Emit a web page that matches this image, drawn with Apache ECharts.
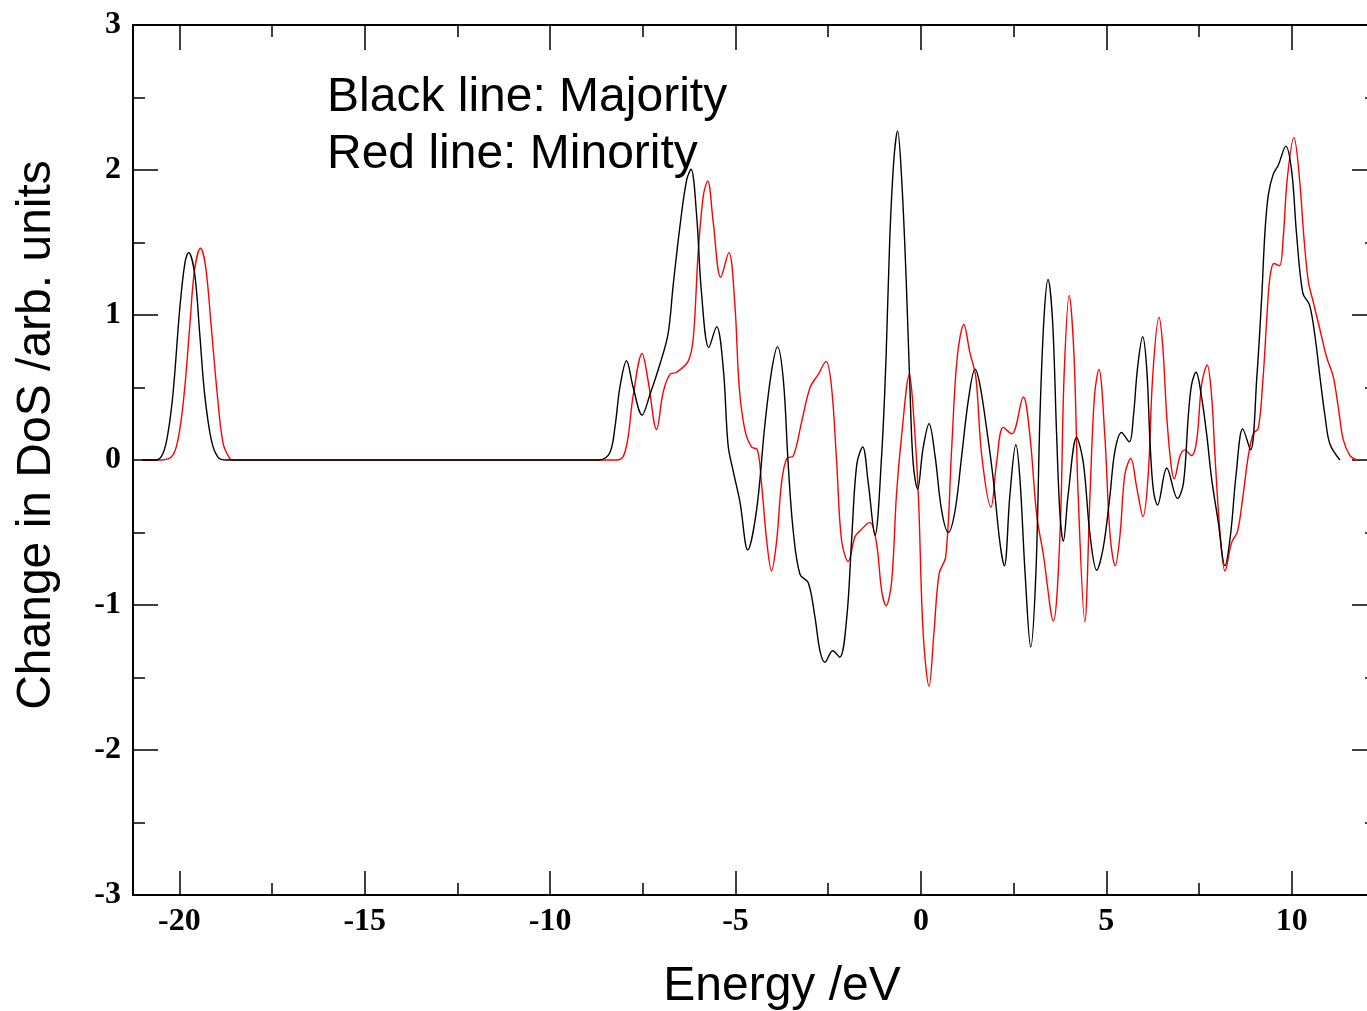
<!DOCTYPE html>
<html>
<head>
<meta charset="utf-8">
<script src="https://cdn.jsdelivr.net/npm/echarts@6/dist/echarts.min.js"></script>
<style>
  html, body { margin: 0; padding: 0; background: #fff; }
  #chart { width: 1367px; height: 1011px; }
</style>
</head>
<body>
<div id="chart"></div>
<script>
// Majority spin (black line): energy (eV) and change in DoS
const majorityEnergy = [-21, -20.62, -20.44, -20.31, -20.17, -19.99, -19.85, -19.75, -19.59, -19.45, -19.32, -19.14, -18.96, -18.73, -18.4, -9.0,
  -8.66, -8.39, -8.25, -8.12, -7.94, -7.76, -7.52, -7.31, -7.04, -6.82, -6.68, -6.50, -6.32, -6.20, -6.05, -5.92, -5.72, -5.51, -5.33, -5.20,
  -5.06, -4.88, -4.67, -4.43, -4.21, -4.03, -3.87, -3.71, -3.58, -3.44, -3.26, -3.04, -2.86, -2.72, -2.59, -2.38, -2.19, -2.00, -1.87, -1.73,
  -1.57, -1.42, -1.24, -1.06, -0.94, -0.84, -0.73, -0.63, -0.52, -0.40, -0.30, -0.21, -0.09, 0.06, 0.22, 0.38, 0.56, 0.74, 0.92, 1.10, 1.28,
  1.46, 1.59, 1.77, 1.95, 2.13, 2.25, 2.40, 2.56, 2.67, 2.81, 2.96, 3.10, 3.21, 3.32, 3.43, 3.55, 3.66, 3.75, 3.84, 3.97, 4.20, 4.38, 4.56,
  4.74, 4.92, 5.10, 5.23, 5.41, 5.62, 5.73, 5.84, 5.98, 6.09, 6.18, 6.27, 6.38, 6.63, 6.92, 7.08, 7.21, 7.30, 7.42, 7.55, 7.71, 7.84, 8.02,
  8.20, 8.35, 8.50, 8.68, 8.89, 9.06, 9.19, 9.28, 9.37, 9.50, 9.64, 9.84, 10.00, 10.13, 10.30, 10.48, 10.63, 10.76, 10.90, 11.03, 11.30];
const majorityDos = [0, 0, 0.046, 0.18, 0.46, 1.04, 1.36, 1.43, 1.29, 0.87, 0.46, 0.14, 0.02, 0, 0, 0,
  0, 0.05, 0.23, 0.50, 0.685, 0.50, 0.31, 0.45, 0.66, 0.87, 1.21, 1.61, 1.93, 2.005, 1.69, 1.16, 0.775, 0.92, 0.63, 0.10,
  -0.08, -0.29, -0.62, -0.34, 0.24, 0.61, 0.78, 0.55, -0.03, -0.50, -0.79, -0.845, -1.08, -1.32, -1.395, -1.315, -1.36, -1.085, -0.555, -0.03,
  0.09, -0.16, -0.52, 0.03, 0.71, 1.53, 2.07, 2.27, 1.94, 1.26, 0.52, -0.02, -0.20, 0.085, 0.25, 0.03, -0.35, -0.50, -0.35, 0.03, 0.415,
  0.627, 0.52, 0.22, -0.13, -0.57, -0.73, -0.24, 0.105, -0.13, -0.785, -1.29, -0.785, 0.30, 0.985, 1.245, 0.96, 0.17, -0.375, -0.56, -0.24, 0.155, -0.02, -0.515,
  -0.76, -0.60, -0.24, 0.06, 0.19, 0.125, 0.30, 0.63, 0.85, 0.63, 0.115, -0.21, -0.31, -0.055, -0.265, -0.16, 0.30, 0.52, 0.605, 0.465, 0.17, -0.13, -0.43,
  -0.73, -0.515, -0.10, 0.215, 0.07, 0.575, 1.12, 1.58, 1.83, 1.97, 2.035, 2.165, 1.99, 1.56, 1.15, 1.07, 0.85, 0.575, 0.30, 0.11, 0.00];

// Minority spin (red line)
const minorityEnergy = [-21, -20.48, -20.17, -19.99, -19.85, -19.72, -19.59, -19.43, -19.29, -19.14, -18.98, -18.82, -18.64, -18.55, -18.3, -8.6,
  -8.21, -8.03, -7.90, -7.76, -7.52, -7.36, -7.13, -6.95, -6.77, -6.59, -6.28, -6.14, -6.01, -5.87, -5.75, -5.60, -5.40, -5.18, -5.02, -4.90,
  -4.75, -4.57, -4.41, -4.30, -4.16, -4.03, -3.89, -3.76, -3.62, -3.44, -3.22, -2.99, -2.77, -2.56, -2.41, -2.27, -2.14, -1.96, -1.78, -1.65,
  -1.38, -1.20, -1.06, -0.94, -0.79, -0.66, -0.52, -0.31, -0.21, -0.07, 0.06, 0.22, 0.35, 0.49, 0.67, 0.83, 0.98, 1.16, 1.32, 1.48, 1.64,
  1.89, 2.04, 2.22, 2.45, 2.76, 2.94, 3.12, 3.30, 3.57, 3.75, 3.86, 4.00, 4.13, 4.24, 4.42, 4.56, 4.68, 4.80, 4.96, 5.10, 5.24, 5.37, 5.50,
  5.66, 5.82, 5.99, 6.13, 6.25, 6.42, 6.52, 6.63, 6.74, 6.83, 6.99, 7.12, 7.30, 7.44, 7.57, 7.72, 7.84, 7.93, 8.07, 8.20, 8.38, 8.54, 8.69,
  8.83, 8.96, 9.10, 9.23, 9.33, 9.41, 9.52, 9.67, 9.77, 9.88, 10.06, 10.21, 10.33, 10.45, 10.58, 10.76, 10.94, 11.12, 11.26, 11.39, 11.57, 11.75];
const minorityDos = [0, 0, 0.035, 0.21, 0.51, 0.92, 1.31, 1.46, 1.33, 0.92, 0.46, 0.115, 0.01, 0, 0, 0,
  0, 0.025, 0.155, 0.445, 0.735, 0.55, 0.21, 0.47, 0.59, 0.605, 0.68, 0.84, 1.42, 1.82, 1.925, 1.635, 1.26, 1.43, 1.08, 0.50,
  0.21, 0.09, 0.07, -0.16, -0.555, -0.765, -0.555, -0.16, 0.01, 0.03, 0.26, 0.50, 0.59, 0.68, 0.50, -0.03, -0.555, -0.70, -0.53, -0.49,
  -0.43, -0.57, -0.90, -1.005, -0.84, -0.24, 0.17, 0.59, 0.355, -0.24, -1.195, -1.56, -1.195, -0.785, -0.665, 0.085, 0.71, 0.935, 0.74, 0.575, 0.03,
  -0.325, -0.02, 0.225, 0.18, 0.435, 0.165, -0.375, -0.65, -1.11, -0.515, 0.575, 1.135, 0.71, -0.24, -1.115, -0.24, 0.44, 0.625, 0.165, -0.515, -0.73, -0.515, -0.10,
  0.01, -0.19, -0.39, -0.10, 0.575, 0.985, 0.79, 0.30, -0.02, -0.13, 0.03, 0.07, 0.03, 0.14, 0.52, 0.655, 0.44, 0.03, -0.515, -0.765, -0.57, -0.49, -0.24,
  0.03, 0.18, 0.22, 0.575, 0.985, 1.255, 1.355, 1.34, 1.53, 1.94, 2.225, 1.94, 1.53, 1.23, 1.09, 0.90, 0.71, 0.575, 0.355, 0.14, 0.03, 0];

const xMajorTicks = [-20, -15, -10, -5, 0, 5, 10];
const xMinorTicks = [-17.5, -12.5, -7.5, -2.5, 2.5, 7.5];
const annotationLines = ['Black line: Majority', 'Red line: Minority'];

const toPairs = (xs, ys) => xs.map((x, i) => [x, ys[i]]);

const X_MIN = -21.25, X_MAX = 12.3;
const labelFont = { fontFamily: 'Liberation Serif', fontSize: 32, fontWeight: 'bold', color: '#000' };
const lineStyleAxis = { color: '#000', width: 2 };

function xAxisDef(position, ticks, len, showLine, showLabel) {
  return {
    type: 'value', position: position, min: X_MIN, max: X_MAX,
    axisLine: { show: showLine, onZero: false, lineStyle: lineStyleAxis },
    axisTick: { show: true, inside: true, length: len, customValues: ticks, lineStyle: { color: '#000', width: 1.5 } },
    axisLabel: showLabel ? Object.assign({ show: true, customValues: xMajorTicks, margin: 11 }, labelFont) : { show: false },
    splitLine: { show: false }
  };
}

const chart = echarts.init(document.getElementById('chart'), null, { renderer: 'canvas' });
chart.setOption({
  animation: false,
  backgroundColor: '#fff',
  grid: { left: 133, top: 25, width: 1244, height: 870, containLabel: false, outerBoundsMode: 'none' },
  xAxis: [
    Object.assign(xAxisDef('bottom', xMajorTicks, 24, true, true), {
      name: 'Energy /eV', nameLocation: 'middle', nameGap: 68,
      nameTextStyle: { fontFamily: 'Liberation Sans', fontSize: 48, color: '#000', padding: [0, 0, 0, 54] }
    }),
    xAxisDef('bottom', xMinorTicks, 12, false, false),
    xAxisDef('top', xMajorTicks, 25, true, false),
    xAxisDef('top', xMinorTicks, 12, false, false)
  ],
  yAxis: [
    {
      type: 'value', position: 'left', min: -3, max: 3, interval: 1,
      name: 'Change in DoS /arb. units', nameLocation: 'middle', nameGap: 72,
      nameTextStyle: { fontFamily: 'Liberation Sans', fontSize: 48, color: '#000', padding: [0, 0, 0, 50] },
      axisLine: { show: true, onZero: false, lineStyle: lineStyleAxis },
      axisTick: { show: true, inside: true, length: 25, lineStyle: { color: '#000', width: 1.5 } },
      minorTick: { show: true, splitNumber: 2, length: 12, lineStyle: { color: '#000', width: 1.5 } },
      axisLabel: Object.assign({ margin: 12, padding: [10, 0, 0, 0] }, labelFont),
      splitLine: { show: false }, minorSplitLine: { show: false }
    },
    {
      type: 'value', position: 'right', min: -3, max: 3, interval: 1,
      axisLine: { show: true, onZero: false, lineStyle: lineStyleAxis },
      axisTick: { show: true, inside: true, length: 25, lineStyle: { color: '#000', width: 1.5 } },
      minorTick: { show: true, splitNumber: 2, length: 12, lineStyle: { color: '#000', width: 1.5 } },
      axisLabel: { show: false },
      splitLine: { show: false }, minorSplitLine: { show: false }
    }
  ],
  series: [
    {
      name: 'Majority', type: 'line', xAxisIndex: 0, yAxisIndex: 0,
      data: toPairs(majorityEnergy, majorityDos),
      showSymbol: false, smooth: 0.35,
      lineStyle: { color: '#000', width: 1.4 }, z: 3
    },
    {
      name: 'Minority', type: 'line', xAxisIndex: 0, yAxisIndex: 0,
      data: toPairs(minorityEnergy, minorityDos),
      showSymbol: false, smooth: 0.35,
      lineStyle: { color: '#ff0000', width: 1.4 }, z: 2
    }
  ],
  graphic: annotationLines.map((t, i) => ({
    type: 'text', x: 327, y: 98 + i * 57, z: 10,
    style: { text: t, fontFamily: 'Liberation Sans', fontSize: 48, fill: '#000', verticalAlign: 'middle', align: 'left' }
  }))
});
</script>
</body>
</html>
